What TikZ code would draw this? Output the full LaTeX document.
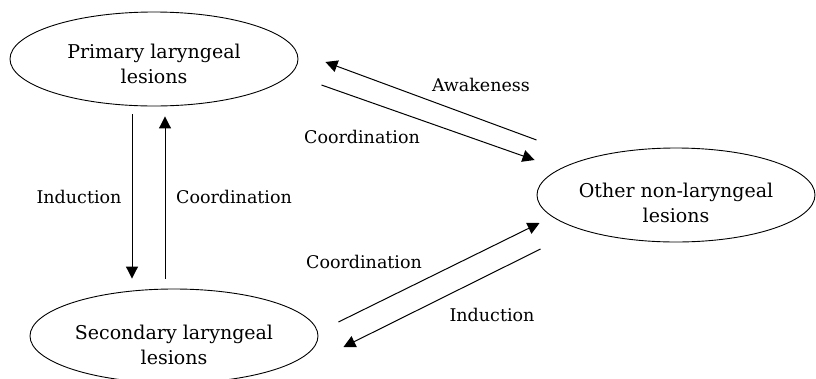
\documentclass[tikz,border=0pt]{standalone}
\usepackage{fontspec}
\setmainfont{DejaVu Serif}
\usetikzlibrary{
  arrows.meta,
  shapes.geometric
}
\newcommand{\lesionlabel}[3]{%
  \raisebox{#1}[0pt][0pt]{\begin{tabular}{@{}c@{}}#2\\#3\end{tabular}}}

\begin{document}
\begin{tikzpicture}[
  x=1pt, y=-1pt,
  lesion/.style={
    ellipse, draw, line width=0.9pt,
    minimum width=288pt, minimum height=94pt,
    inner sep=0pt,
    font=\fontsize{19}{25}\selectfont
    },
  lbl/.style={font=\fontsize{17.5}{20}\selectfont, inner sep=0pt},
  link/.style={line width=1pt, -{Triangle[length=12pt,width=12pt]}}
  ]
\useasboundingbox (0,0) rectangle (816,378);

\node[lesion] (primary) at (154,59)
  {\lesionlabel{-11pt}{Primary laryngeal}{lesions}};
\node[lesion] (secondary) at (174,336)
  {\lesionlabel{-15pt}{Secondary laryngeal}{lesions}};
\node[lesion, minimum width=278pt] (other) at (676,195)
  {\lesionlabel{-14pt}{Other non-laryngeal}{lesions}};

\draw[link] ([xshift=-22pt,yshift=-8pt]primary.south) -- ([xshift=-42pt,yshift=10pt]secondary.north);
\draw[link] ([xshift=-9pt,yshift=10pt]secondary.north) -- ([xshift=11pt,yshift=-10pt]primary.south);
\draw[link] ([yshift=55pt]other.west) -- ([xshift=27pt,yshift=-3pt]primary.east);
\draw[link] ([xshift=23pt,yshift=-26pt]primary.east) -- ([xshift=-2pt,yshift=35pt]other.west);
\draw[link] ([xshift=20pt,yshift=14pt]secondary.east) -- ([xshift=3pt,yshift=-28pt]other.west);
\draw[link] ([xshift=4pt,yshift=-54pt]other.west) -- ([xshift=25pt,yshift=-11pt]secondary.east);

\node[lbl] (induction1) at (79,197) {Induction};
\node[lbl] (coord1) at (234,197) {Coordination};
\node[lbl] (awake) at (481,85) {Awakeness};
\node[lbl] (coord2) at (362,137) {Coordination};
\node[lbl] (coord3) at (364,262) {Coordination};
\node[lbl] (induction2) at (492,315) {Induction};
\end{tikzpicture}
\end{document}
